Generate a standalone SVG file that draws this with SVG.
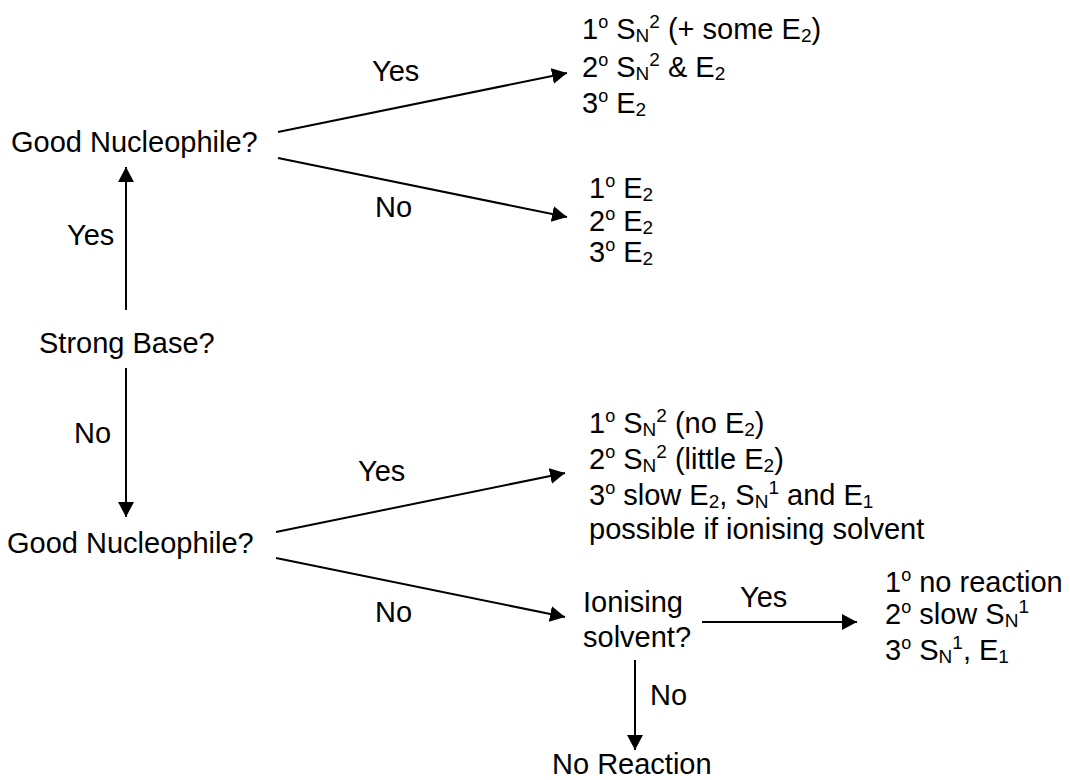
<svg xmlns="http://www.w3.org/2000/svg" width="1070" height="780" viewBox="0 0 1070 780">
<defs>
<marker id="ah" markerUnits="userSpaceOnUse" markerWidth="16" markerHeight="16" refX="15" refY="8" orient="auto" viewBox="0 0 16 16">
<path d="M0,0 L15,8 L0,16 z" fill="#000"/>
</marker>
<style>
text{font-family:"Liberation Sans",Arial,sans-serif;font-size:29px;fill:#000}
.deg{font-size:18px;baseline-shift:11px}
.sup{font-size:19px;baseline-shift:11px}
.sub{font-size:19px;baseline-shift:-3px}
.c line{stroke:#000;stroke-width:2;marker-end:url(#ah)}
</style>
</defs>
<rect width="1070" height="780" fill="#fff"/>
<g id="strong-base"><text x="39" y="353">Strong Base?</text></g>
<g id="good-nuc-1"><text x="11" y="152">Good Nucleophile?</text></g>
<g id="good-nuc-2"><text x="7" y="553">Good Nucleophile?</text></g>
<g id="out-strong-yes">
<text x="582" y="39">1<tspan class="deg">o</tspan> S<tspan class="sub">N</tspan><tspan class="sup">2</tspan> (+ some E<tspan class="sub">2</tspan>)</text>
<text x="582" y="77">2<tspan class="deg">o</tspan> S<tspan class="sub">N</tspan><tspan class="sup">2</tspan> &amp; E<tspan class="sub">2</tspan></text>
<text x="582" y="113">3<tspan class="deg">o</tspan> E<tspan class="sub">2</tspan></text>
</g>
<g id="out-strong-no">
<text x="589" y="198">1<tspan class="deg">o</tspan> E<tspan class="sub">2</tspan></text>
<text x="589" y="231">2<tspan class="deg">o</tspan> E<tspan class="sub">2</tspan></text>
<text x="589" y="262">3<tspan class="deg">o</tspan> E<tspan class="sub">2</tspan></text>
</g>
<g id="out-weak-yes">
<text x="589" y="433">1<tspan class="deg">o</tspan> S<tspan class="sub">N</tspan><tspan class="sup">2</tspan> (no E<tspan class="sub">2</tspan>)</text>
<text x="589" y="469">2<tspan class="deg">o</tspan> S<tspan class="sub">N</tspan><tspan class="sup">2</tspan> (little E<tspan class="sub">2</tspan>)</text>
<text x="589" y="505">3<tspan class="deg">o</tspan> slow E<tspan class="sub">2</tspan>, S<tspan class="sub">N</tspan><tspan class="sup">1</tspan> and E<tspan class="sub">1</tspan></text>
<text x="589" y="539">possible if ionising solvent</text>
</g>
<g id="ionising"><text x="583" y="612">Ionising</text><text x="583" y="647">solvent?</text></g>
<g id="out-ion-yes">
<text x="885" y="592">1<tspan class="deg">o</tspan> no reaction</text>
<text x="885" y="624">2<tspan class="deg">o</tspan> slow S<tspan class="sub">N</tspan><tspan class="sup">1</tspan></text>
<text x="885" y="660">3<tspan class="deg">o</tspan> S<tspan class="sub">N</tspan><tspan class="sup">1</tspan>, E<tspan class="sub">1</tspan></text>
</g>
<g id="no-reaction"><text x="552" y="774">No Reaction</text></g>
<g id="connectors" class="c">
<line x1="126" y1="310" x2="126" y2="167"/>
<line x1="126" y1="368" x2="126" y2="517"/>
<line x1="278" y1="132" x2="567" y2="73"/>
<line x1="278" y1="158" x2="567" y2="217"/>
<line x1="276" y1="532" x2="565" y2="473"/>
<line x1="276" y1="558" x2="565" y2="617"/>
<line x1="702" y1="622" x2="857" y2="622"/>
<line x1="635" y1="660" x2="635" y2="750"/>
</g>
<g id="labels">
<text x="67" y="245">Yes</text>
<text x="74" y="443">No</text>
<text x="372" y="81">Yes</text>
<text x="375" y="217">No</text>
<text x="358" y="481">Yes</text>
<text x="375" y="622">No</text>
<text x="740" y="607">Yes</text>
<text x="650" y="705">No</text>
</g>
</svg>
